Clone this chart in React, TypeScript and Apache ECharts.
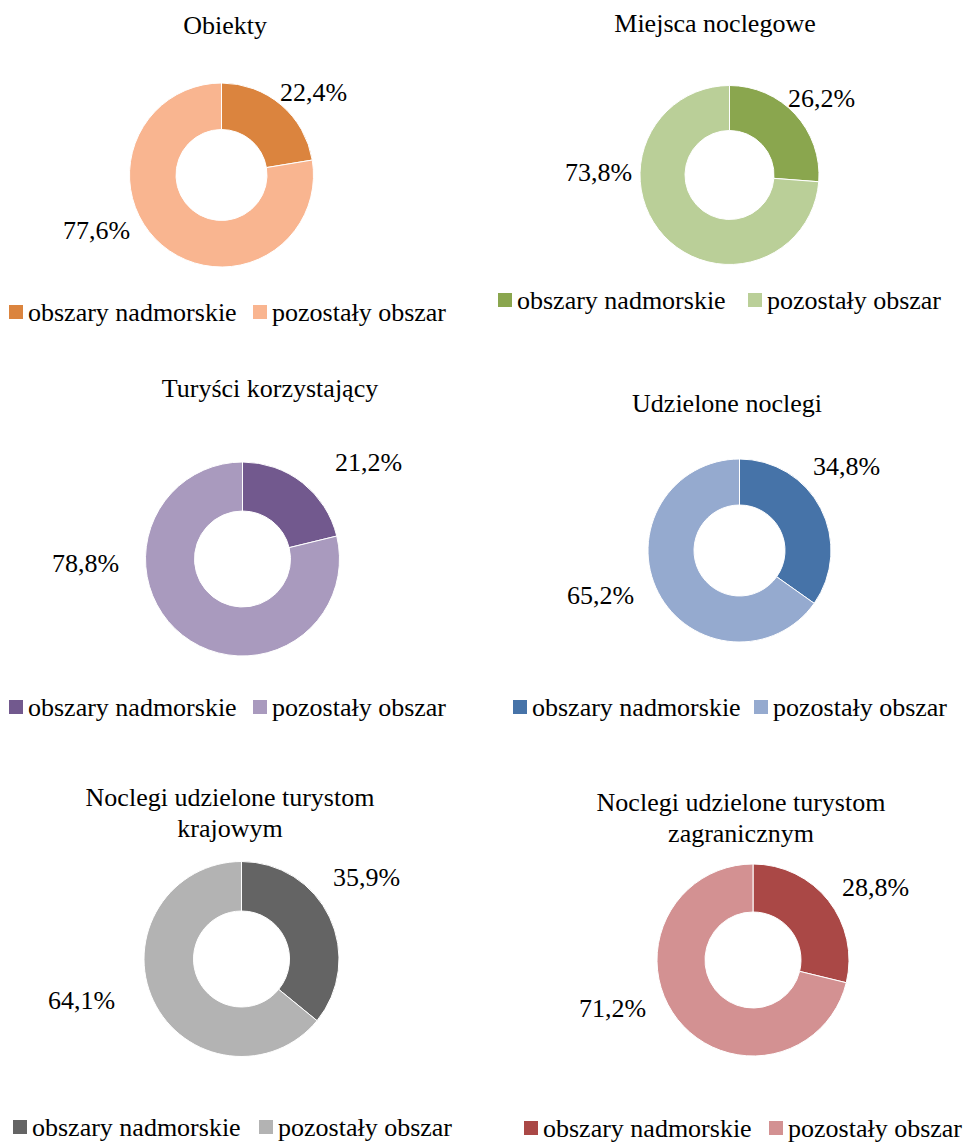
import React, { useEffect, useRef } from "react";
import * as echarts from "echarts";

const categories = ["obszary nadmorskie", "pozostały obszar"];
const titles = [
  "Obiekty",
  "Miejsca noclegowe",
  "Turyści korzystający",
  "Udzielone noclegi",
  "Noclegi udzielone turystom\nkrajowym",
  "Noclegi udzielone turystom\nzagranicznym",
];
const coastal = [22.4, 26.2, 21.2, 34.8, 35.9, 28.8];
const rest = [77.6, 73.8, 78.8, 65.2, 64.1, 71.2];

const palette = [
  ["#DB843E", "#F9B590"],
  ["#8AA64E", "#BACF98"],
  ["#72598E", "#A99ABE"],
  ["#4673A8", "#95AACF"],
  ["#646464", "#B3B3B3"],
  ["#AA4846", "#D39192"],
];

// layout (pixels)
const centers = [
  [221.5, 175],
  [729.5, 175],
  [242.5, 559],
  [739.5, 550.5],
  [241.5, 959],
  [753, 960],
];
const radii = [
  [45.5, 92],
  [44.5, 89.5],
  [48, 97],
  [45.5, 91.5],
  [48, 97.5],
  [48, 96],
];
const titlePos = [
  [225, 25],
  [715, 23],
  [270, 388],
  [727, 403],
  [230, 813],
  [741, 818],
];
const labelPos = [
  [[280, 92], [63, 230]],
  [[788, 98], [565, 172]],
  [[335, 462], [52, 563]],
  [[813, 466], [567, 595]],
  [[333, 877], [48, 1000]],
  [[842, 887], [579, 1008]],
];
// legend: y centre, x of each square
const legendY = [312, 300, 707, 707, 1127, 1128];
const legendX = [
  [9, 253],
  [498, 748],
  [9, 253],
  [513, 754],
  [13, 259],
  [524, 769],
];

const FONT = '"Liberation Serif", "Times New Roman", serif';

export default function App() {
  const ref = useRef<HTMLDivElement>(null);
  useEffect(() => {
    if (!ref.current) return;
    const chart = echarts.init(ref.current, null, { renderer: "svg" });
    const series = titles.map((t, i) => ({
      type: "pie",
      name: t,
      center: centers[i],
      radius: radii[i],
      startAngle: 90,
      clockwise: true,
      silent: true,
      itemStyle: { borderColor: "#ffffff", borderWidth: 1 },
      label: {
        show: true,
        position: "outside",
        fontFamily: FONT,
        fontSize: 26,
        color: "#000000",
        formatter: (p: any) => p.value.toFixed(1).replace(".", ",") + "%",
      },
      labelLine: { show: false },
      labelLayout: (p: any) => ({
        x: labelPos[i][p.dataIndex][0],
        y: labelPos[i][p.dataIndex][1],
        align: "left",
        verticalAlign: "middle",
      }),
      data: [
        { name: categories[0], value: coastal[i], itemStyle: { color: palette[i][0] } },
        { name: categories[1], value: rest[i], itemStyle: { color: palette[i][1] } },
      ],
    }));
    const graphic: any[] = [];
    titles.forEach((t, i) => {
      graphic.push({
        type: "text",
        x: titlePos[i][0],
        y: titlePos[i][1],
        style: {
          text: t,
          fontFamily: FONT,
          fontSize: 26,
          lineHeight: 31,
          fill: "#000000",
          textAlign: "center",
          textVerticalAlign: "middle",
        },
      });
      categories.forEach((c, k) => {
        const x = legendX[i][k];
        const y = legendY[i];
        graphic.push({
          type: "rect",
          shape: { x, y: y - 7, width: 14, height: 14 },
          style: { fill: palette[i][k] },
        });
        graphic.push({
          type: "text",
          x: x + 19,
          y,
          style: {
            text: c,
            fontFamily: FONT,
            fontSize: 26,
            fill: "#000000",
            textAlign: "left",
            textVerticalAlign: "middle",
          },
        });
      });
    });
    chart.setOption({
      animation: false,
      backgroundColor: "#ffffff",
      textStyle: { fontFamily: FONT },
      graphic,
      series,
    });
    return () => chart.dispose();
  }, []);
  return (
    <div
      ref={ref}
      style={{ position: "fixed", left: 0, top: 0, width: 970, height: 1142 }}
    />
  );
}
